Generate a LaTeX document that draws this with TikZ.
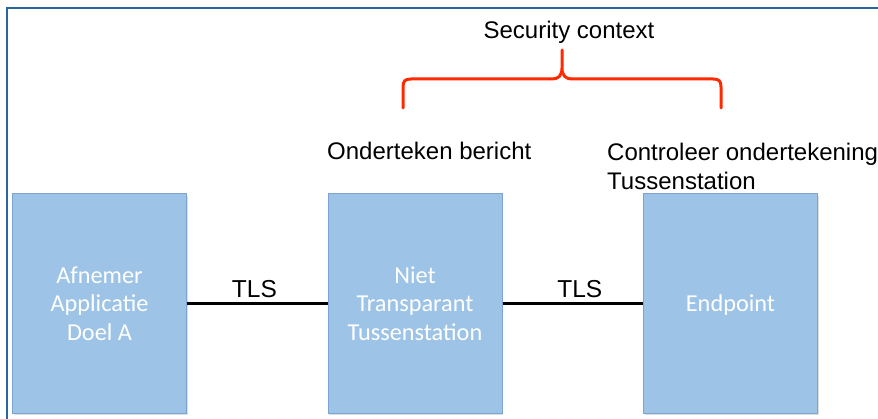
\documentclass[tikz,border=0pt]{standalone}
\usepackage{fontspec}
\setmainfont{Liberation Sans}
\newfontfamily\boxfont{Carlito}
\usetikzlibrary{shadows}
\definecolor{boxfill}{HTML}{9DC3E6}
\definecolor{boxline}{HTML}{7BA4D3}
\definecolor{framecol}{HTML}{2A679F}
\definecolor{bracecol}{HTML}{FF2A00}
\tikzset{
  stationbox/.style={draw=boxline, line width=1pt, fill=boxfill,
    minimum width=174pt, minimum height=219pt, inner sep=0pt,
    align=center, text=white, text depth=-5pt,
    font=\boxfont\fontsize{24.3}{28.6}\selectfont,
    drop shadow={shadow xshift=1.2pt, shadow yshift=-1.6pt, opacity=0.25}},
  link/.style={line width=2.6pt, black},
  tls/.style={font=\fontsize{24.5}{28}\selectfont, inner sep=0pt, anchor=base, yshift=6pt},
  caption/.style={font=\fontsize{24}{29}\selectfont, inner sep=0pt, align=left},
}
\begin{document}
\begin{tikzpicture}[x=1pt, y=-1pt]
  \useasboundingbox (0,0) rectangle (878,419);
  % outer frame
  \draw[framecol, line width=2.6pt] (7,419) -- (7,8) -- (878,8);

  % stations
  \node[stationbox] (a) at (99.5,303.5) {Afnemer\\Applicatie\\Doel A};
  \node[stationbox] (b) at (415,303.5) {Niet\\Transparant\\Tussenstation};
  \node[stationbox] (c) at (730.5,303.5) {Endpoint};

  % TLS links
  \draw[link] (a.east) -- node[tls, pos=0.48] {TLS} (b.west);
  \draw[link] (b.west -| b.east) -- node[tls, pos=0.55] {TLS} (c.west);

  % captions
  \node[caption, anchor=base west] (sign) at (327,160) {Onderteken bericht};
  \node[caption, anchor=north west] (check) at (607,142.5) {Controleer ondertekening\\Tussenstation};
  \node[caption, anchor=base] (ctx) at (569,39) {Security context};

  % brace over the security context
  \draw[bracecol, line width=3pt, line cap=round, line join=round]
    (403,108) -- (403,87) .. controls (403,81) and (405,79) .. (411,79)
    -- (552,79) .. controls (558,79) and (562,76) .. (562,68) -- (562,50)
    (562,68) .. controls (562,76) and (566,79) .. (572,79)
    -- (713,79) .. controls (719,79) and (721,81) .. (721,87) -- (721,108);
\end{tikzpicture}
\end{document}
